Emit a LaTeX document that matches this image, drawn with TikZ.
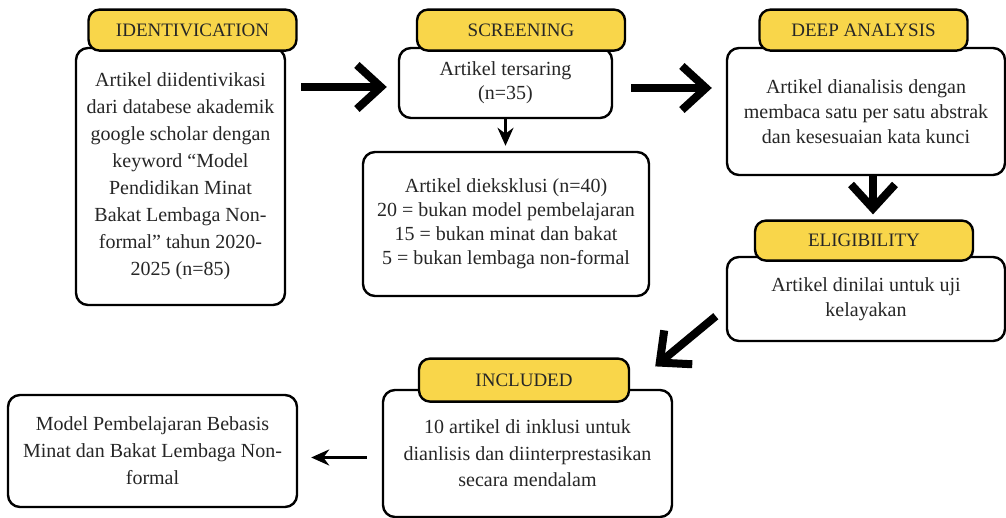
\documentclass[tikz,border=0pt]{standalone}
\usepackage{fontspec}
\setmainfont{Liberation Serif}
\usetikzlibrary{arrows.meta,positioning}
\definecolor{tabyellow}{RGB}{249,214,74}
\definecolor{ink}{RGB}{38,38,38}

\begin{document}
\begin{tikzpicture}[x=1pt,y=1pt,
  box/.style={draw,line width=2.4pt,rounded corners=12pt,fill=white,align=center,text=ink,inner sep=0pt,font=\fontsize{20}{25}\selectfont},
  tab/.style={draw,line width=2.4pt,rounded corners=11pt,fill=tabyellow,text=ink,inner sep=0pt,minimum width=208pt,minimum height=41pt,font=\fontsize{19}{22}\selectfont},
  bigarrow/.style={line width=8pt,-{Straight Barb[length=24pt,width=44pt]}},
  smallarrow/.style={line width=2.6pt,-{Stealth[length=18pt,width=16pt]}}]
  \useasboundingbox (0,0) rectangle (1006,518);
  % boxes
  \node (ident) [box,minimum width=209pt,minimum height=257pt,font=\fontsize{20}{27}\selectfont] at (180.5,341.5) {Artikel diidentivikasi\\dari databese akademik\\google scholar dengan\\keyword “Model\\Pendidikan Minat\\Bakat Lembaga Non-\\formal” tahun 2020-\\2025 (n=85)};
  \node (screen) [box,minimum width=213pt,minimum height=70pt,font=\fontsize{20}{24}\selectfont] at (505.5,435) {Artikel tersaring\\(n=35)};
  \node (excl) [box,minimum width=286pt,minimum height=144pt,font=\fontsize{20}{24}\selectfont] at (506,294) {Artikel dieksklusi (n=40)\\20 = bukan model pembelajaran\\15 = bukan minat dan bakat\\5 = bukan lembaga non-formal};
  \node (deep) [box,minimum width=278pt,minimum height=127pt] at (866,406.5) {Artikel dianalisis dengan\\membaca satu per satu abstrak\\dan kesesuaian kata kunci};
  \node (elig) [box,minimum width=278pt,minimum height=84pt] at (866,219) {Artikel dinilai untuk uji\\kelayakan};
  \node (incl) [box,minimum width=289pt,minimum height=127pt,font=\fontsize{20}{26.5}\selectfont] at (527.5,64.5) {10 artikel di inklusi untuk\\dianlisis dan diinterprestasikan\\secara mendalam};
  \node (final) [box,minimum width=289pt,minimum height=112pt,font=\fontsize{20}{27}\selectfont] at (152.5,67) {Model Pembelajaran Bebasis\\Minat dan Bakat Lembaga Non-\\formal};
  % tabs
  \node (identtab) [tab,above=-5pt of ident.north,xshift=12pt] {IDENTIVICATION};
  \node (screentab) [tab,above=-5pt of screen.north,xshift=15.5pt] {SCREENING};
  \node (deeptab) [tab,above=-5pt of deep.north,xshift=-2.5pt] {DEEP ANALYSIS};
  \node (eligtab) [tab,above=-6pt of elig.north,minimum width=218pt,minimum height=40pt,xshift=-2pt] {ELIGIBILITY};
  \node (incltab) [tab,above=-14pt of incl.north,minimum width=210pt,minimum height=43pt,xshift=-3.5pt] {INCLUDED};
  % arrows
  \coordinate (a1) at ([yshift=-4pt]screen.west);
  \draw[bigarrow,shorten <=15pt,shorten >=11pt] (ident.east |- a1) -- (a1);
  \coordinate (a2) at ([yshift=-5pt]screen.east);
  \draw[bigarrow,shorten <=18pt,shorten >=14pt] (a2) -- (a2 -| deep.west);
  \coordinate (a3) at ([xshift=7pt]deep.south);
  \draw[bigarrow,shorten >=5pt] (a3) -- (a3 |- eligtab.north);
  \draw[bigarrow] ([shift={(-10pt,26pt)}]elig.south west) -- ([shift={(25pt,-9pt)}]incltab.north east);
  \draw[smallarrow,shorten >=5pt] (screen.south) -- (screen.south |- excl.north);
  \coordinate (a6) at ([yshift=-4pt]incl.west);
  \draw[smallarrow,line width=3pt,shorten <=15pt,shorten >=13pt] (a6) -- (a6 -| final.east);
\end{tikzpicture}
\end{document}
